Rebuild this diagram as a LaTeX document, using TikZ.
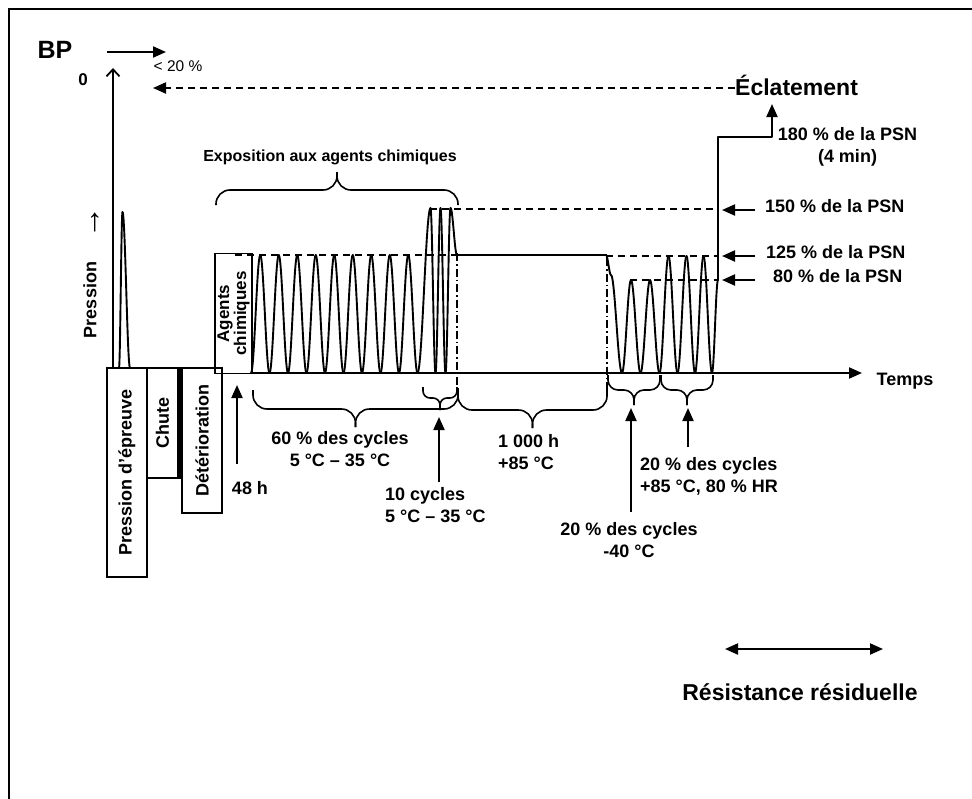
\documentclass[tikz,border=0pt]{standalone}
\usepackage{fontspec}
\setmainfont{Liberation Sans}
\usetikzlibrary{arrows.meta,calc}

\newcommand{\lblfont}{\bfseries\fontsize{18}{22}\selectfont}
% half a pressure cycle, from (x1,y1) to (x2,y2)
\newcommand{\halfcos}[4]{%
  \draw[wave] plot[domain=0:180,samples=15,variable=\t]
    ({#1+((#3)-(#1))*\t/180},{#2+((#4)-(#2))*(1-cos(\t))/2});}
% brace: x left, x right, y ends, y bar, y tip
\newcommand{\pbrace}[6][14pt]{%
  \draw[brc,rounded corners=#1] (#2,#4) -- (#2,#5) -- ({(#2+#3)/2},#5) -- ({(#2+#3)/2},#6);
  \draw[brc,rounded corners=#1] (#3,#4) -- (#3,#5) -- ({(#2+#3)/2},#5) -- ({(#2+#3)/2},#6);}

\begin{document}
\begin{tikzpicture}[x=1pt,y=-1pt,
  lbl/.style={font=\lblfont,inner sep=0pt,align=center},
  vbox/.style={draw,line width=1.6pt,rotate=90,inner sep=0pt,font=\lblfont},
  wave/.style={line width=1.9pt,line cap=round,line join=round},
  lvl/.style={line width=1.6pt,dash pattern=on 7pt off 5pt},
  chain/.style={line width=1.4pt,dash pattern=on 8pt off 3pt on 1.5pt off 3pt},
  arr/.style={line width=2pt,-{Triangle[length=13pt,width=11pt]}},
  brc/.style={line width=1.6pt}]

\useasboundingbox (0,0) rectangle (972,798);
\draw[line width=2.5pt] (9,800) -- (9,9) -- (975,9);

% axes
\coordinate (o) at (113,368);
\coordinate (ytop) at (113,68);
\draw[line width=1.8pt,-{Straight Barb[length=7pt,width=13pt]}] (o) -- (ytop);
\coordinate (t0) at (252,373);
\coordinate (t1) at (862,373);
\draw[arr] (t0) -- (t1);
\node[lbl] (temps) at (905,381) {Temps};
\node[lbl,rotate=90] (pr) at (90,300) {Pression};
\node[font=\fontsize{32}{32}\selectfont,inner sep=0pt,rotate=90] (prarr) at (96,222) {→};

\node[font=\bfseries\fontsize{25}{25}\selectfont,inner sep=0pt] (bp) at (55,50) {BP};
\node[font=\bfseries\fontsize{17}{17}\selectfont,inner sep=0pt] (zero) at (83,80) {0};
\coordinate (bp0) at (107,52);
\coordinate (bp1) at (166,52);
\draw[arr] (bp0) -- (bp1);
\node[font=\fontsize{15.5}{15.5}\selectfont,inner sep=0pt] (lt20) at (178,66) {< 20 \%};
\node[font=\bfseries\fontsize{23}{23}\selectfont,inner sep=0pt,anchor=base west] (ecl) at (735,95) {Éclatement};
\coordinate (bp20) at (153,88);
\draw[lvl,arr] (ecl.west |- bp20) -- (bp20);

% test pressure and boxes
\halfcos{119}{368}{122.5}{212}
\halfcos{122.5}{212}{130}{368}
\node[vbox,minimum width=209pt,minimum height=40pt] (epr) at (127,472.5) {Pression d'épreuve};
\node[vbox,minimum width=110pt,minimum height=31pt] (chute) at (162.5,423) {Chute};
\draw[line width=4pt] ([xshift=1.5pt]chute.south west) -- ([xshift=1.5pt]chute.south east);
\node[vbox,minimum width=145pt,minimum height=40pt] (deter) at (202,440.5) {Détérioration};
\node[vbox,minimum width=120pt,minimum height=37pt,font=\bfseries\fontsize{17}{14.5}\selectfont,align=center] (agents) at (233.5,313.5) {Agents\\chimiques};

% level lines
\draw[lvl] (235,255) -- (457,255);
\draw[lvl] (430,209) -- (718,209);
\draw[lvl] (606,256) -- (718,256);
\draw[lvl] (630,280) -- (718,280);
\draw[chain] (457,253) -- (457,390);
\draw[chain] (607,258) -- (607,390);

% cycles
\foreach \k in {0,...,8}{
  \pgfmathsetmacro\xa{251+18.5*\k}
  \halfcos{\xa}{373}{\xa+9.25}{255}
  \halfcos{\xa+9.25}{255}{\xa+18.5}{373}
}
\foreach \xa/\ya/\xb/\yb in {417.5/373/430.5/208, 430.5/208/435.5/373,
    435.5/373/440.5/208, 440.5/208/445.5/373, 445.5/373/450.5/208,
    450.5/208/457/255}
  \halfcos{\xa}{\ya}{\xb}{\yb}
\draw[wave] (457,255) -- (606,255);
\foreach \xa/\ya/\xb/\yb in {606/255/611/275, 611/275/622/373,
    622/373/631/280, 631/280/640.5/373, 640.5/373/650/280, 650/280/659.5/373,
    659.5/373/668.5/256, 668.5/256/677.5/373, 677.5/373/686.5/256,
    686.5/256/695/373, 695/373/703.5/256, 703.5/256/712/373, 712/373/718/280}
  \halfcos{\xa}{\ya}{\xb}{\yb}
\coordinate (burst) at (772,104);
\draw[wave,-{Triangle[length=13pt,width=11pt]}] (718,280) -- (718,137) -| (burst);

% braces
\pbrace{216}{458}{205}{190}{172}
\pbrace{253}{458}{390}{409}{427}
\pbrace[7pt]{423}{457}{387}{398}{410}
\pbrace{458}{607}{388}{410}{428}
\pbrace[10pt]{608}{660}{375}{390}{405}
\pbrace[10pt]{661}{713}{375}{390}{405}
\node[font=\bfseries\fontsize{16}{16}\selectfont,inner sep=0pt] (expo) at (330,157) {Exposition aux agents chimiques};

% labels below the time axis
\coordinate (a48) at (237,385);
\node[lbl] (h48) at (250,488) {48 h};
\draw[arr] ($(h48.north -| a48)+(0,-17)$) -- (a48);
\node[lbl,anchor=north] (c60) at (340,431) {60 \% des cycles\\5 °C – 35 °C};
\coordinate (a10) at (439,417);
\node[lbl,align=left,anchor=north west] (c10) at (385,487) {10 cycles\\5 °C – 35 °C};
\draw[arr] ($(c10.north -| a10)+(0,-5)$) -- (a10);
\node[lbl,align=left,anchor=north west] (k1000) at (498,434) {1 000 h\\+85 °C};
\coordinate (am40) at (631,408);
\node[lbl,anchor=north] (cm40) at (629,522) {20 \% des cycles\\-40 °C};
\draw[arr] ($(cm40.north -| am40)+(0,-10)$) -- (am40);
\coordinate (ap85) at (688,408);
\node[lbl,align=left,anchor=north west] (cp85) at (640,457) {20 \% des cycles\\+85 °C, 80 \% HR};
\draw[arr] ($(cp85.north -| ap85)+(0,-10)$) -- (ap85);

% pressure levels on the right
\node[lbl,anchor=north] (p180) at (847.5,127) {180 \% de la PSN\\(4 min)};
\node[lbl,anchor=base west] (p150) at (765,212) {150 \% de la PSN};
\node[lbl,anchor=base west] (p125) at (766,258) {125 \% de la PSN};
\node[lbl,anchor=base west] (p80) at (773,282) {80 \% de la PSN};
\coordinate (q150) at (722,210);
\coordinate (q125) at (722,256);
\coordinate (q80) at (722,280);
\draw[arr] ($(q150 -| p150.west)+(-10,0)$) -- (q150);
\draw[arr] ($(q125 -| p150.west)+(-10,0)$) -- (q125);
\draw[arr] ($(q80 -| p150.west)+(-10,0)$) -- (q80);

% residual strength
\coordinate (rr0) at (725,649);
\coordinate (rr1) at (883,649);
\draw[line width=2pt,{Triangle[length=13pt,width=11pt]}-{Triangle[length=13pt,width=11pt]}] (rr0) -- (rr1);
\node[font=\bfseries\fontsize{23}{23}\selectfont,inner sep=0pt] (resid) at (800,692) {Résistance résiduelle};
\end{tikzpicture}
\end{document}
